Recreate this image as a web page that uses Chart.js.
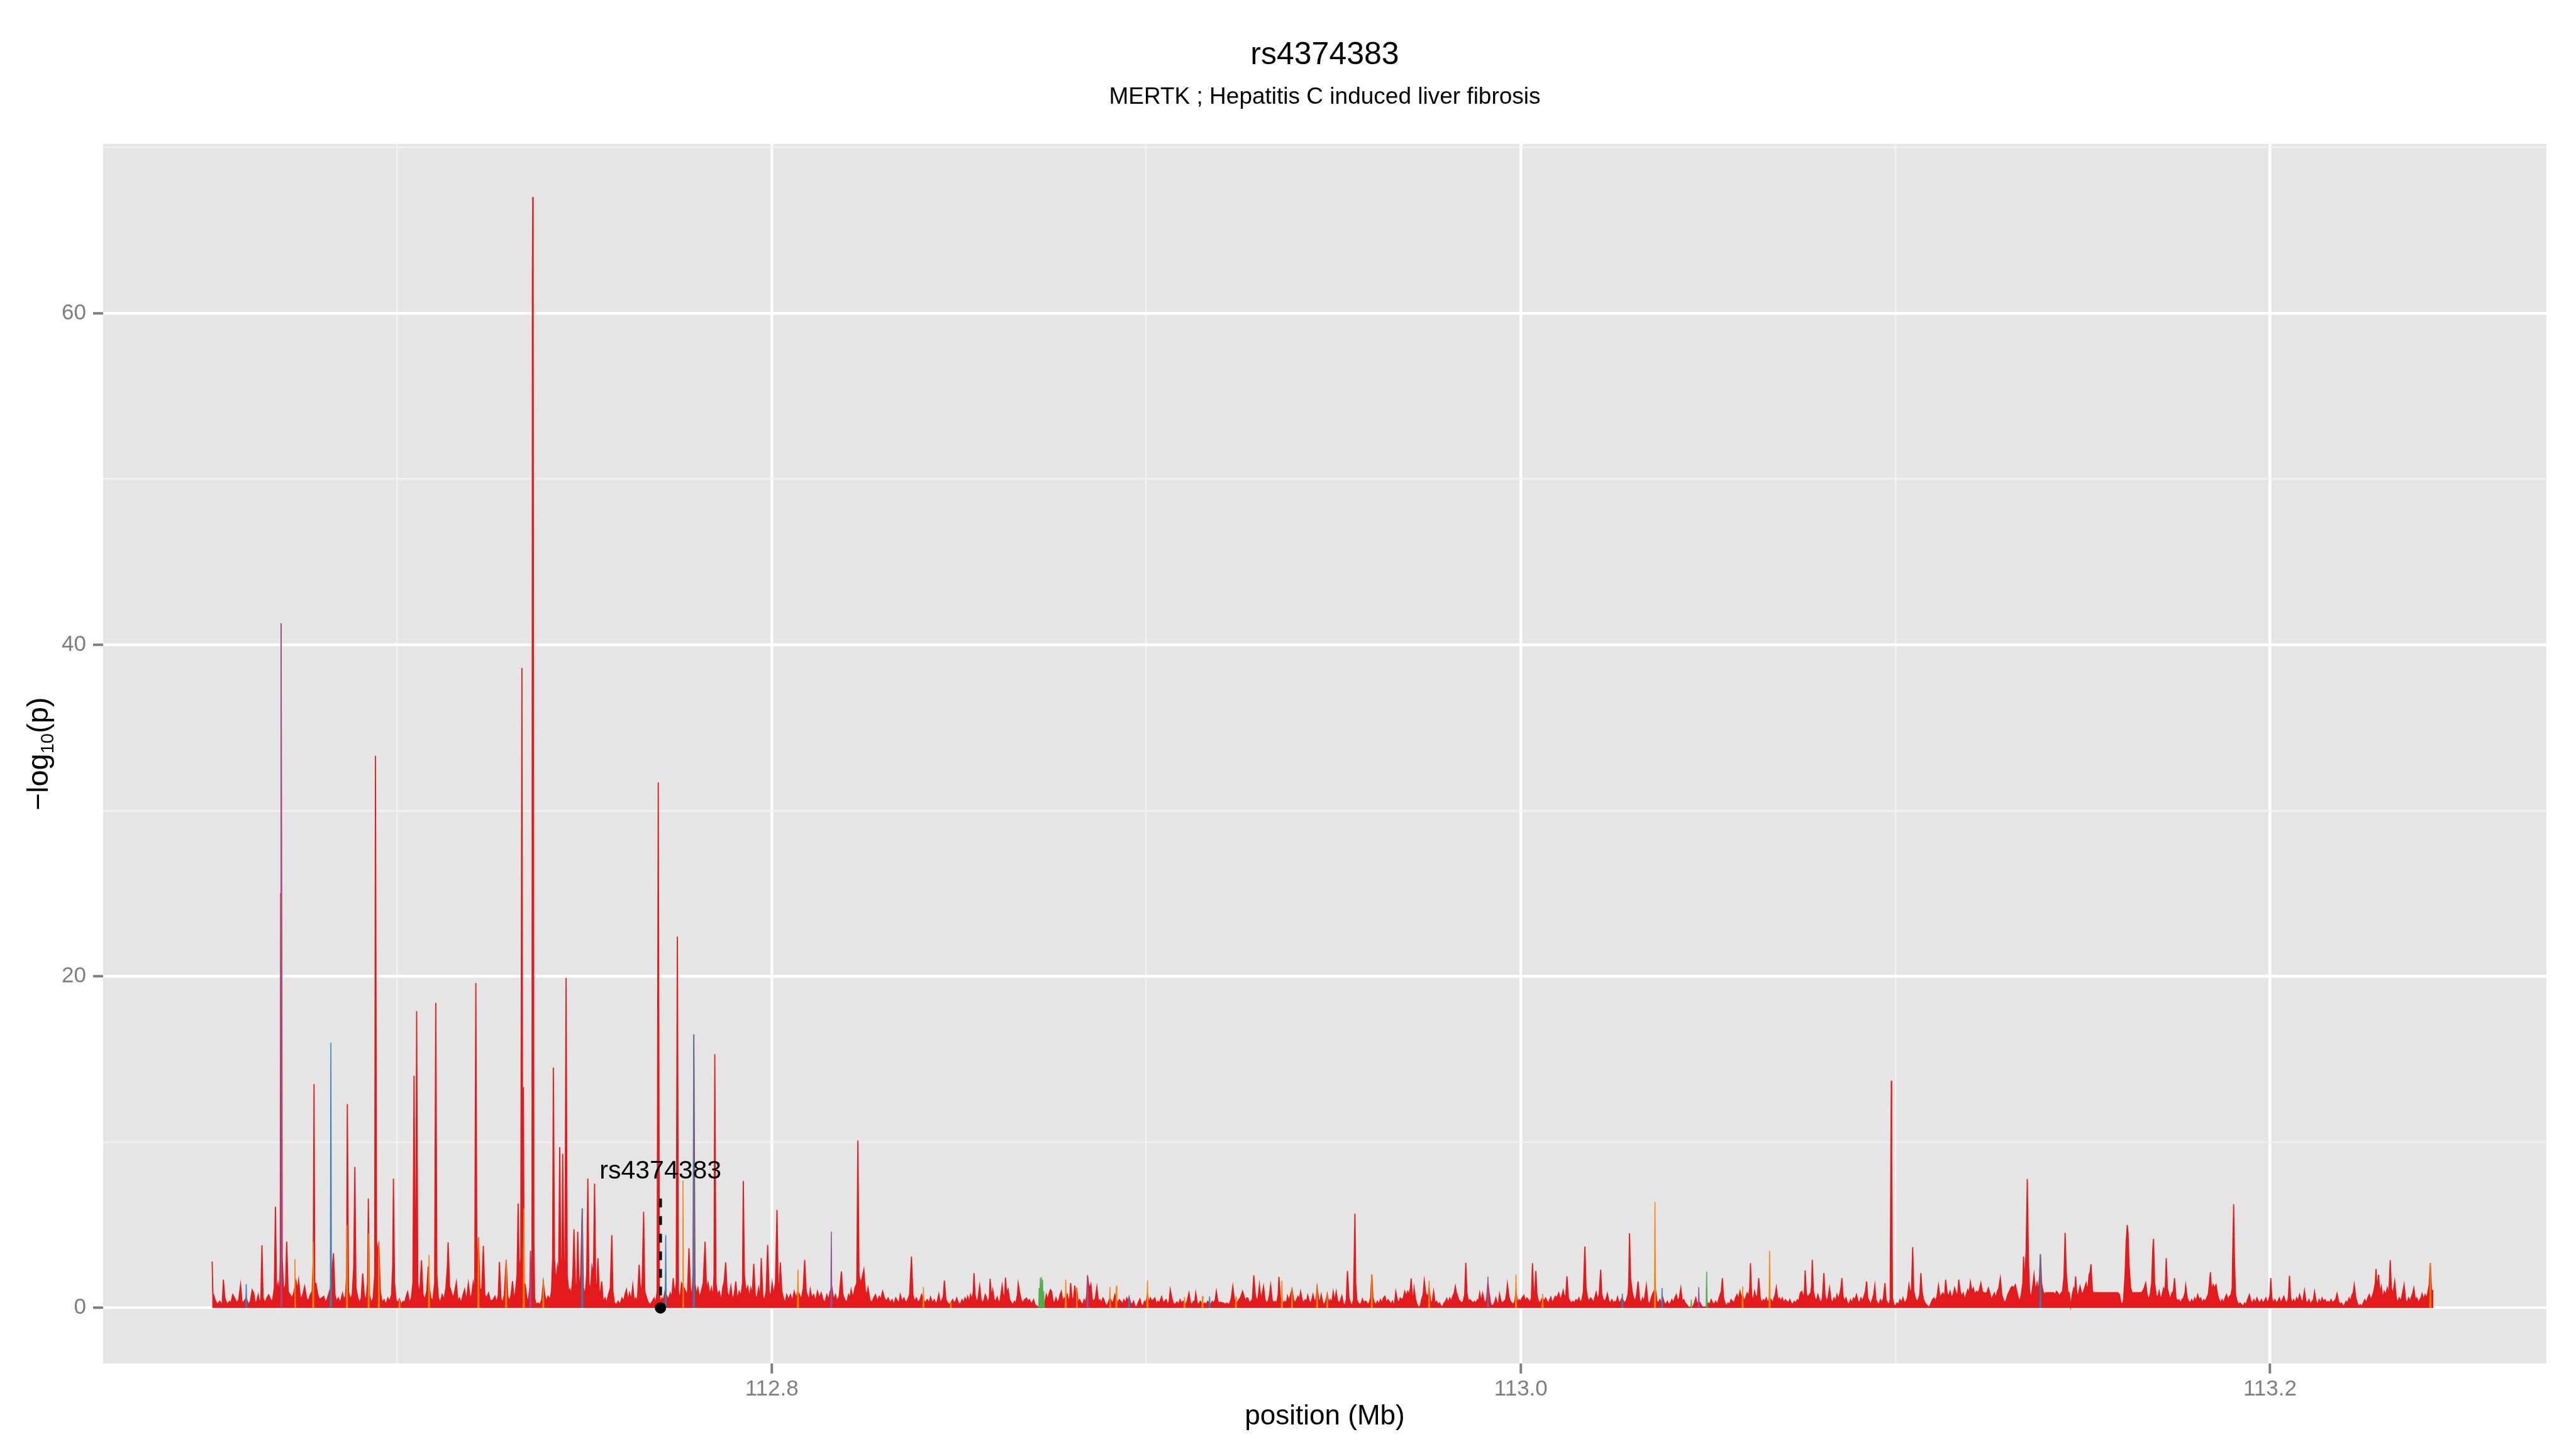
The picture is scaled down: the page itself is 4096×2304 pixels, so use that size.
<!DOCTYPE html>
<html>
<head>
<meta charset="utf-8">
<title>rs4374383</title>
<script src="https://cdn.jsdelivr.net/npm/chart.js@4.4.1/dist/chart.umd.min.js"></script>
<style>
    html, body { margin: 0; padding: 0; background: #ffffff; }
    canvas { display: block; }
</style>
</head>
<body>
<canvas id="locusChart" width="4096" height="2304"></canvas>
<script>
const titleText = "rs4374383";
const subtitleText = "MERTK ; Hepatitis C induced liver fibrosis";
const xTitle = "position (Mb)";

const xMin = 112.6215;
const xMax = 113.2738;
const yMin = -3.35;
const yMax = 70.2;

// lead snp marker
const leadSnp = "rs4374383";
const leadPos = 112.7703;
const leadLineTop = 6.6;
const leadLabelY = 7.8;

// [position (Mb), -log10(p)] for the red (low LD) snps
const redSnps = [
    [112.6506, 2.8], [112.6508, 0.9], [112.6514, 0.5], [112.6520, 0.2], [112.6526, 0.4], [112.6533, 0.2], [112.6536, 1.7], [112.6540, 0.6], [112.6546, 0.2], [112.6552, 0.4],
    [112.6556, 0.3], [112.6561, 0.8], [112.6566, 0.6], [112.6572, 0.3], [112.6577, 0.5], [112.6582, 1.4], [112.6586, 0.3], [112.6591, 0.4], [112.6597, 0.6], [112.6603, 0.2],
    [112.6608, 0.4], [112.6613, 1.08], [112.6617, 0.9], [112.6621, 0.3], [112.6625, 0.4], [112.6629, 0.79], [112.6633, 0.3], [112.6636, 0.5], [112.6639, 3.78], [112.6642, 0.6],
    [112.6647, 0.3], [112.6652, 0.6], [112.6657, 0.79], [112.6662, 0.5], [112.6667, 0.4], [112.6672, 1.2], [112.6675, 6.1], [112.6678, 1.0], [112.6682, 1.5], [112.6686, 0.8],
    [112.6688, 3.0], [112.6689, 25.0], [112.6690, 41.3], [112.6691, 30.0], [112.6693, 3.0], [112.6697, 1.0], [112.6702, 1.4], [112.6705, 4.0], [112.6709, 1.0], [112.6714, 0.8],
    [112.6719, 0.6], [112.6724, 0.9], [112.6730, 1.6], [112.6734, 1.1], [112.6737, 1.67], [112.6742, 0.5], [112.6748, 0.8], [112.6753, 1.3], [112.6758, 0.6], [112.6763, 0.4],
    [112.6768, 0.8], [112.6773, 1.0], [112.6776, 3.0], [112.6778, 13.5], [112.6780, 1.5], [112.6783, 1.48], [112.6788, 0.8], [112.6793, 0.5], [112.6798, 0.6], [112.6804, 0.7],
    [112.6809, 0.3], [112.6814, 0.6], [112.6818, 0.9], [112.6822, 1.2], [112.6830, 3.3],

    [112.6834, 0.8], [112.6838, 0.4], [112.6843, 0.6], [112.6848, 0.3], [112.6854, 0.88], [112.6858, 0.5], [112.6862, 0.7], [112.6865, 2.0], [112.6867, 12.3], [112.6870, 1.0],
    [112.6875, 0.5], [112.6880, 0.8], [112.6884, 2.5], [112.6887, 8.5], [112.6890, 1.2], [112.6895, 0.6], [112.6900, 0.3], [112.6904, 0.6], [112.6908, 2.08], [112.6912, 0.8],
    [112.6917, 0.4], [112.6921, 1.5], [112.6923, 6.6], [112.6926, 0.8], [112.6931, 0.3], [112.6936, 0.6], [112.6940, 2.0], [112.6942, 33.3], [112.6945, 4.0], [112.6948, 3.5],
    [112.6951, 3.83], [112.6955, 1.0], [112.6960, 0.3], [112.6965, 0.5], [112.6970, 0.2], [112.6975, 0.6], [112.6980, 0.4], [112.6985, 0.8], [112.6988, 2.5], [112.6990, 7.8],
    [112.6993, 1.5], [112.6997, 0.5],

    [112.7001, 0.3], [112.7006, 0.54], [112.7011, 0.2], [112.7016, 0.4], [112.7020, 0.3], [112.7024, 0.7], [112.7028, 0.97], [112.7033, 0.3], [112.7038, 0.6], [112.7042, 1.5],
    [112.7045, 14.0], [112.7048, 3.0], [112.7050, 4.0], [112.7052, 17.9], [112.7055, 1.5], [112.7060, 0.8], [112.7065, 2.88], [112.7069, 0.8], [112.7074, 0.5], [112.7079, 1.0],
    [112.7083, 2.5], [112.7086, 1.2], [112.7090, 0.6], [112.7095, 0.4], [112.7100, 1.5], [112.7103, 18.4], [112.7106, 2.0], [112.7110, 0.6], [112.7115, 0.3], [112.7120, 0.8],
    [112.7125, 0.5], [112.7130, 1.2], [112.7134, 2.5], [112.7136, 3.96], [112.7140, 1.3], [112.7144, 1.0], [112.7149, 0.6], [112.7153, 0.9], [112.7158, 1.54], [112.7162, 0.4],
    [112.7166, 0.6], [112.7171, 0.3], [112.7176, 0.8], [112.7180, 1.11], [112.7185, 0.4], [112.7190, 1.48], [112.7195, 0.5], [112.7199, 0.8], [112.7203, 1.54], [112.7207, 1.0],
    [112.7210, 19.6], [112.7213, 1.5], [112.7217, 4.26], [112.7221, 1.0], [112.7226, 1.2], [112.7230, 3.74], [112.7234, 0.8], [112.7239, 0.6], [112.7244, 0.9], [112.7249, 0.4],
    [112.7256, 0.49], [112.7261, 0.7], [112.7266, 0.3], [112.7270, 0.8], [112.7273, 2.77], [112.7277, 0.6], [112.7282, 0.3], [112.7286, 0.8], [112.7291, 2.9], [112.7295, 0.7],
    [112.7300, 0.4], [112.7304, 0.8], [112.7308, 1.62], [112.7312, 0.5], [112.7316, 1.0], [112.7320, 2.0], [112.7323, 6.3], [112.7326, 2.0], [112.7330, 3.0], [112.7333, 38.6],
    [112.7335, 4.0], [112.7337, 13.3], [112.7339, 1.5], [112.7342, 1.4], [112.7346, 0.6], [112.7350, 0.4], [112.7354, 1.2], [112.7356, 3.45], [112.7359, 1.0], [112.7360, 3.0],
    [112.7361, 62.0], [112.7362, 67.0], [112.7363, 63.0], [112.7365, 4.0], [112.7367, 0.6], [112.7371, 0.2], [112.7376, 0.3], [112.7381, 0.2], [112.7386, 0.5], [112.7390, 1.56],
    [112.7394, 0.8], [112.7398, 0.4], [112.7403, 0.7], [112.7408, 0.5], [112.7412, 1.0], [112.7415, 3.0], [112.7417, 14.5], [112.7420, 3.0], [112.7424, 1.5], [112.7428, 2.5],
    [112.7431, 2.0], [112.7434, 9.7], [112.7437, 2.0], [112.7440, 3.0], [112.7442, 9.3], [112.7445, 2.0], [112.7448, 3.0], [112.7451, 19.9], [112.7454, 2.0], [112.7458, 1.0],
    [112.7461, 1.13], [112.7465, 0.8], [112.7469, 2.0], [112.7472, 4.75], [112.7476, 1.5],

    [112.7479, 0.8], [112.7482, 4.6], [112.7486, 1.0], [112.7490, 2.0], [112.7494, 6.0], [112.7497, 1.2], [112.7502, 0.8], [112.7506, 2.0], [112.7509, 7.8], [112.7512, 1.5],
    [112.7516, 1.0], [112.7520, 2.5], [112.7524, 2.0], [112.7527, 7.5], [112.7530, 1.5], [112.7533, 1.2], [112.7536, 3.0], [112.7540, 0.8], [112.7543, 1.0], [112.7546, 1.6],
    [112.7550, 0.4], [112.7555, 0.6], [112.7559, 0.3], [112.7564, 0.8], [112.7569, 1.2], [112.7573, 4.4], [112.7576, 1.0], [112.7580, 0.3], [112.7585, 0.2], [112.7590, 0.4],
    [112.7595, 0.2], [112.7600, 0.6], [112.7605, 0.4], [112.7608, 0.8], [112.7612, 1.1], [112.7616, 0.4], [112.7620, 0.9], [112.7625, 0.5], [112.7629, 1.35], [112.7633, 0.4],
    [112.7637, 0.6], [112.7641, 0.3], [112.7646, 2.6], [112.7650, 0.8], [112.7654, 1.5], [112.7658, 5.8], [112.7661, 1.0], [112.7666, 0.6], [112.7671, 0.3], [112.7676, 0.2],
    [112.7681, 0.4], [112.7686, 0.6], [112.7690, 0.3], [112.7694, 1.0], [112.7697, 31.7], [112.7700, 1.0], [112.7703, 0.3], [112.7707, 0.6], [112.7711, 0.5], [112.7715, 1.0],
    [112.7720, 0.7], [112.7724, 0.5], [112.7729, 0.9], [112.7733, 0.6], [112.7737, 1.8], [112.7741, 0.8], [112.7745, 1.5], [112.7748, 22.4], [112.7751, 1.0], [112.7755, 0.5],
    [112.7759, 1.5], [112.7766, 1.2], [112.7770, 1.0], [112.7775, 0.8], [112.7779, 3.6], [112.7783, 1.2], [112.7787, 0.6], [112.7790, 2.0], [112.7792, 16.5], [112.7795, 1.5],
    [112.7799, 0.8], [112.7803, 1.2], [112.7807, 0.6], [112.7812, 1.0], [112.7817, 1.5], [112.7822, 4.0], [112.7826, 1.0], [112.7830, 1.5], [112.7835, 0.8], [112.7839, 1.2],
    [112.7843, 0.6], [112.7846, 2.0], [112.7848, 15.3], [112.7851, 1.5], [112.7855, 0.8], [112.7860, 1.0], [112.7865, 0.4], [112.7869, 1.2], [112.7873, 1.6], [112.7877, 2.75],
    [112.7881, 1.0], [112.7886, 0.6], [112.7891, 1.3], [112.7895, 0.5], [112.7900, 0.8], [112.7904, 1.6], [112.7908, 0.5], [112.7913, 1.0], [112.7918, 0.7], [112.7922, 1.5],
    [112.7924, 7.66], [112.7927, 2.0], [112.7931, 1.0], [112.7936, 1.3], [112.7940, 0.6], [112.7944, 1.2], [112.7948, 0.8], [112.7952, 2.66], [112.7956, 0.8], [112.7960, 0.5],
    [112.7965, 1.2], [112.7969, 0.6], [112.7972, 3.0], [112.7976, 0.8], [112.7980, 0.4], [112.7985, 1.0], [112.7989, 3.8], [112.7993, 1.0], [112.7997, 0.6], [112.8001, 1.5],
    [112.8005, 0.8], [112.8010, 1.5], [112.8014, 5.9], [112.8017, 1.5], [112.8020, 1.2], [112.8023, 2.75], [112.8027, 1.0], [112.8031, 0.6], [112.8036, 0.3], [112.8040, 0.8],
    [112.8045, 0.5], [112.8050, 0.8], [112.8055, 0.4], [112.8060, 1.0], [112.8065, 0.6], [112.8070, 1.0], [112.8074, 0.8], [112.8079, 0.5], [112.8084, 1.2], [112.8088, 2.9],
    [112.8092, 1.0], [112.8096, 0.7], [112.8100, 0.5], [112.8103, 1.1], [112.8107, 0.6], [112.8112, 0.8], [112.8117, 0.4], [112.8122, 1.0], [112.8127, 0.6], [112.8132, 0.9],
    [112.8137, 0.5], [112.8142, 0.3], [112.8147, 0.8], [112.8152, 0.5], [112.8156, 1.0], [112.8161, 1.2], [112.8165, 0.5], [112.8170, 0.8], [112.8175, 0.4], [112.8180, 0.7],
    [112.8186, 2.2], [112.8190, 0.8], [112.8195, 0.5], [112.8200, 0.3], [112.8205, 0.8], [112.8209, 0.6], [112.8212, 1.1], [112.8217, 0.6], [112.8222, 1.2], [112.8227, 1.5],
    [112.8230, 10.1], [112.8233, 2.0], [112.8237, 1.5], [112.8241, 1.8], [112.8246, 2.3], [112.8250, 1.0], [112.8254, 0.8], [112.8257, 1.2], [112.8262, 0.5], [112.8267, 0.3],
    [112.8272, 0.6], [112.8277, 0.8], [112.8282, 0.4], [112.8287, 0.7], [112.8291, 0.5], [112.8296, 1.0], [112.8301, 0.6], [112.8306, 0.4], [112.8311, 0.6], [112.8316, 0.3],
    [112.8321, 0.5], [112.8326, 0.2], [112.8331, 0.6], [112.8336, 0.4], [112.8340, 0.3], [112.8343, 0.8], [112.8348, 0.4], [112.8353, 0.6], [112.8358, 0.3], [112.8363, 0.5],
    [112.8368, 0.8], [112.8373, 3.1], [112.8377, 0.8],

    [112.8381, 0.4], [112.8386, 0.6], [112.8391, 0.3], [112.8396, 0.5], [112.8400, 0.8], [112.8405, 0.5], [112.8410, 0.3], [112.8415, 0.5], [112.8420, 0.3], [112.8424, 0.65],
    [112.8429, 0.3], [112.8434, 0.5], [112.8439, 0.2], [112.8443, 0.5], [112.8446, 0.83], [112.8450, 0.3], [112.8455, 0.5], [112.8458, 0.7], [112.8461, 1.65], [112.8465, 0.5],
    [112.8470, 0.3], [112.8474, 0.2], [112.8478, 0.3], [112.8483, 0.5], [112.8487, 0.3], [112.8491, 0.4], [112.8494, 0.6], [112.8498, 0.3], [112.8503, 0.2], [112.8508, 0.5],
    [112.8512, 0.3], [112.8516, 0.6], [112.8520, 0.4], [112.8523, 0.7], [112.8527, 0.4], [112.8531, 0.8], [112.8535, 0.5], [112.8538, 1.0], [112.8540, 2.1], [112.8543, 0.8],
    [112.8547, 0.3], [112.8551, 0.6], [112.8555, 1.33], [112.8559, 0.5], [112.8563, 0.3], [112.8567, 0.5], [112.8570, 0.8], [112.8573, 0.65], [112.8577, 0.3], [112.8581, 0.6],
    [112.8583, 1.76], [112.8587, 0.6], [112.8590, 1.08], [112.8594, 0.5], [112.8598, 0.4], [112.8602, 0.65], [112.8606, 0.3], [112.8610, 0.5], [112.8615, 1.35], [112.8619, 0.6],
    [112.8622, 0.8], [112.8624, 1.83], [112.8627, 0.9], [112.8631, 1.13], [112.8635, 0.5], [112.8640, 0.3], [112.8644, 0.2], [112.8648, 0.4], [112.8652, 0.3], [112.8656, 0.8],
    [112.8658, 1.46], [112.8662, 0.9], [112.8666, 0.5], [112.8670, 0.3], [112.8675, 0.5], [112.8680, 0.6], [112.8684, 0.4], [112.8688, 0.5], [112.8692, 0.3], [112.8695, 0.3],
    [112.8699, 0.5], [112.8703, 0.2], [112.8708, 0.1], [112.8713, 0.05], [112.8719, 0.05], [112.8725, 0.05], [112.8729, 0.3], [112.8733, 0.8], [112.8737, 0.5], [112.8741, 0.9],
    [112.8744, 1.1], [112.8747, 1.0], [112.8751, 0.4], [112.8755, 0.3], [112.8759, 0.6], [112.8763, 0.3], [112.8767, 0.5], [112.8770, 0.8], [112.8773, 1.0], [112.8777, 0.4],
    [112.8781, 0.6], [112.8785, 0.5], [112.8789, 0.8], [112.8793, 0.3], [112.8796, 0.7], [112.8798, 1.5], [112.8802, 0.5], [112.8806, 0.6], [112.8809, 1.35], [112.8812, 0.4],
    [112.8814, 1.24], [112.8818, 0.3], [112.8822, 0.5], [112.8826, 0.3], [112.8830, 0.2], [112.8834, 0.5], [112.8838, 0.3], [112.8841, 0.8], [112.8843, 1.97], [112.8846, 1.4],
    [112.8849, 1.2], [112.8852, 1.43], [112.8856, 0.5], [112.8860, 0.4], [112.8864, 0.6], [112.8868, 1.26], [112.8872, 0.4], [112.8876, 0.5], [112.8880, 0.3], [112.8884, 0.6],
    [112.8886, 0.54], [112.8890, 0.3], [112.8894, 0.1], [112.8898, 0.3], [112.8903, 0.6], [112.8907, 0.4], [112.8911, 0.3], [112.8916, 0.8], [112.8920, 0.5], [112.8924, 0.3],
    [112.8928, 0.5], [112.8932, 0.4], [112.8936, 0.2], [112.8940, 0.5], [112.8944, 0.3], [112.8948, 0.6], [112.8952, 0.4], [112.8954, 0.65], [112.8958, 0.3], [112.8962, 0.2],
    [112.8966, 0.4], [112.8970, 0.1], [112.8974, 0.05], [112.8978, 0.3], [112.8983, 0.54], [112.8987, 0.2], [112.8991, 0.1], [112.8995, 0.4], [112.8999, 0.3], [112.9003, 0.8],
    [112.9007, 0.3], [112.9011, 0.6], [112.9015, 0.4], [112.9019, 0.5], [112.9023, 0.6], [112.9027, 0.2], [112.9031, 0.4], [112.9035, 0.3], [112.9038, 0.5], [112.9041, 0.68],
    [112.9045, 0.3], [112.9049, 0.4], [112.9053, 0.5], [112.9057, 0.2], [112.9061, 0.4], [112.9064, 1.1], [112.9068, 0.6], [112.9072, 0.3], [112.9076, 0.2], [112.9080, 0.3],
    [112.9082, 0.36], [112.9086, 0.2], [112.9090, 0.5], [112.9094, 0.3], [112.9098, 0.4], [112.9102, 0.3], [112.9106, 0.2], [112.9110, 0.5], [112.9114, 0.9], [112.9118, 0.3],
    [112.9122, 0.2], [112.9126, 0.4], [112.9129, 0.3], [112.9132, 0.9], [112.9136, 0.3], [112.9140, 0.2], [112.9144, 0.4], [112.9148, 0.3], [112.9152, 0.2], [112.9156, 0.3],
    [112.9160, 0.2], [112.9164, 0.4], [112.9168, 0.3], [112.9172, 0.2], [112.9176, 0.4], [112.9180, 0.3], [112.9184, 0.5], [112.9187, 1.0], [112.9191, 0.4], [112.9195, 0.3],
    [112.9199, 0.35], [112.9203, 0.3], [112.9207, 0.3], [112.9211, 0.2], [112.9215, 0.3], [112.9219, 0.2], [112.9223, 0.3], [112.9227, 0.6], [112.9231, 1.3], [112.9235, 0.5],
    [112.9239, 0.4], [112.9243, 0.3], [112.9247, 0.5], [112.9251, 0.6], [112.9254, 0.8], [112.9257, 1.0], [112.9261, 0.7], [112.9265, 0.4], [112.9268, 0.6], [112.9271, 0.6],
    [112.9275, 0.3], [112.9279, 0.4], [112.9283, 0.5], [112.9287, 1.97], [112.9291, 0.8], [112.9295, 0.4], [112.9299, 0.7], [112.9302, 1.38], [112.9306, 0.5], [112.9309, 0.8],
    [112.9313, 1.3], [112.9317, 0.5], [112.9321, 0.3], [112.9325, 0.4], [112.9329, 0.8], [112.9332, 1.37], [112.9336, 0.5], [112.9340, 0.3], [112.9344, 0.4], [112.9348, 0.3],
    [112.9352, 0.8], [112.9354, 1.87], [112.9358, 0.6], [112.9362, 0.5], [112.9366, 0.3], [112.9370, 0.4], [112.9374, 0.3], [112.9377, 0.72],

    [112.9381, 0.4], [112.9385, 0.8], [112.9389, 1.13], [112.9393, 0.5], [112.9397, 0.3], [112.9401, 0.5], [112.9405, 0.7], [112.9409, 0.5], [112.9412, 0.97], [112.9416, 0.5],
    [112.9420, 0.3], [112.9424, 0.5], [112.9428, 0.4], [112.9431, 0.76], [112.9435, 0.4], [112.9439, 0.3], [112.9442, 0.5], [112.9445, 0.8], [112.9449, 0.4], [112.9453, 0.5],
    [112.9456, 1.24], [112.9460, 0.5], [112.9464, 0.4], [112.9467, 0.79], [112.9471, 0.3], [112.9475, 0.2], [112.9479, 0.4], [112.9483, 0.83], [112.9487, 0.3], [112.9491, 0.5],
    [112.9495, 0.3], [112.9499, 0.97], [112.9503, 0.4], [112.9507, 0.97], [112.9511, 0.4], [112.9515, 0.3], [112.9519, 0.5], [112.9522, 0.72], [112.9526, 0.3], [112.9530, 0.1],
    [112.9534, 0.5], [112.9537, 2.23], [112.9541, 0.6], [112.9545, 0.3], [112.9549, 0.1], [112.9553, 0.5], [112.9555, 3.0], [112.9557, 5.69], [112.9559, 1.5], [112.9562, 0.5],
    [112.9566, 0.3], [112.9570, 0.2], [112.9574, 0.3], [112.9577, 0.54], [112.9581, 0.3], [112.9584, 0.4], [112.9587, 0.4], [112.9591, 0.2], [112.9595, 0.3], [112.9599, 0.6],
    [112.9602, 2.02], [112.9605, 0.6], [112.9609, 0.3], [112.9613, 0.2], [112.9617, 0.4], [112.9621, 0.2], [112.9625, 0.5], [112.9629, 0.3], [112.9633, 0.6], [112.9637, 0.7],
    [112.9641, 0.3], [112.9645, 0.5], [112.9649, 0.4], [112.9653, 0.2], [112.9657, 0.4], [112.9661, 0.1], [112.9664, 0.5], [112.9666, 0.97], [112.9670, 0.5], [112.9674, 0.3],
    [112.9678, 0.6], [112.9682, 0.5], [112.9686, 0.6], [112.9690, 1.0], [112.9694, 0.7], [112.9698, 1.0], [112.9702, 0.8], [112.9705, 1.2], [112.9707, 1.78], [112.9710, 0.8],
    [112.9713, 0.6], [112.9715, 1.19], [112.9719, 0.5], [112.9723, 0.2], [112.9727, 0.05], [112.9731, 0.1], [112.9735, 0.5], [112.9739, 0.8], [112.9742, 1.64], [112.9746, 0.9],
    [112.9750, 0.7], [112.9753, 0.8], [112.9755, 1.2], [112.9759, 0.4], [112.9763, 0.3], [112.9767, 1.0], [112.9771, 0.3], [112.9775, 0.4], [112.9779, 0.2], [112.9783, 0.3],
    [112.9787, 0.1], [112.9791, 0.1], [112.9795, 0.3], [112.9799, 0.4], [112.9802, 0.57], [112.9806, 0.3], [112.9810, 0.6], [112.9814, 0.4], [112.9818, 0.7], [112.9822, 0.9],
    [112.9825, 1.3], [112.9828, 0.9], [112.9830, 0.8], [112.9834, 0.5], [112.9838, 0.4], [112.9842, 0.3], [112.9846, 0.4], [112.9850, 0.8], [112.9853, 2.73], [112.9856, 0.9],
    [112.9860, 0.4], [112.9864, 0.5], [112.9868, 0.4], [112.9872, 0.3], [112.9876, 0.4], [112.9880, 0.3], [112.9884, 0.5], [112.9887, 0.4], [112.9890, 0.9], [112.9894, 0.4],
    [112.9898, 0.86], [112.9902, 0.4], [112.9906, 0.3], [112.9909, 0.6], [112.9912, 1.6], [112.9915, 0.9], [112.9919, 0.3], [112.9923, 0.1], [112.9927, 0.2], [112.9931, 0.4],
    [112.9933, 0.6], [112.9937, 0.3], [112.9940, 0.2], [112.9943, 0.83], [112.9947, 0.4], [112.9951, 0.3], [112.9955, 0.4], [112.9959, 0.5], [112.9962, 0.9], [112.9964, 1.43],
    [112.9968, 0.7], [112.9972, 0.4], [112.9976, 0.3], [112.9980, 0.2], [112.9984, 0.4], [112.9987, 1.0], [112.9991, 0.3], [112.9995, 0.5], [112.9999, 0.4], [113.0003, 0.6],
    [113.0008, 0.76], [113.0012, 0.4], [113.0016, 0.6], [113.0020, 0.5], [113.0024, 0.3], [113.0028, 0.6], [113.0031, 2.7], [113.0034, 0.9], [113.0037, 1.0], [113.0040, 2.23],
    [113.0043, 0.8], [113.0047, 0.4], [113.0051, 0.3], [113.0055, 0.5], [113.0058, 0.6], [113.0062, 0.4], [113.0066, 0.6], [113.0070, 0.4], [113.0074, 0.3], [113.0077, 0.5],
    [113.0080, 0.65], [113.0084, 0.3], [113.0088, 0.5], [113.0092, 0.7], [113.0096, 0.6], [113.0101, 0.9], [113.0105, 0.5], [113.0109, 0.7], [113.0113, 1.05], [113.0117, 0.6],
    [113.0120, 0.8], [113.0123, 1.91], [113.0127, 0.6], [113.0131, 0.4], [113.0135, 0.3], [113.0139, 0.4], [113.0143, 0.3], [113.0147, 0.5], [113.0151, 0.4], [113.0155, 0.6],
    [113.0159, 0.3], [113.0163, 0.5], [113.0167, 1.0], [113.0169, 2.5], [113.0171, 3.7], [113.0174, 1.2], [113.0178, 0.6], [113.0182, 0.4], [113.0186, 0.6], [113.0190, 0.5],
    [113.0194, 0.3], [113.0197, 0.6], [113.0201, 0.94], [113.0205, 0.5], [113.0209, 0.8], [113.0213, 2.3], [113.0216, 0.8], [113.0220, 0.5], [113.0224, 0.4], [113.0228, 0.6],
    [113.0231, 0.86], [113.0235, 0.4], [113.0239, 0.3], [113.0243, 0.5], [113.0247, 0.3], [113.0251, 0.4], [113.0254, 0.3], [113.0258, 0.65], [113.0262, 0.3], [113.0266, 0.4],
    [113.0270, 0.6], [113.0274, 0.4], [113.0278, 0.3], [113.0282, 0.5], [113.0286, 0.8], [113.0288, 1.5], [113.0290, 4.5], [113.0293, 1.8], [113.0297, 1.0], [113.0301, 0.6],
    [113.0305, 0.4], [113.0309, 0.8], [113.0313, 1.6], [113.0317, 0.5], [113.0321, 0.3], [113.0325, 0.6], [113.0329, 0.4], [113.0333, 1.0], [113.0335, 1.35], [113.0339, 0.4],
    [113.0343, 0.2], [113.0347, 0.5], [113.0351, 0.8], [113.0355, 1.0],

    [113.0359, 1.2], [113.0363, 0.4], [113.0367, 0.3], [113.0371, 0.5], [113.0375, 0.3], [113.0379, 0.6], [113.0383, 0.3], [113.0387, 0.2], [113.0391, 0.4], [113.0395, 0.2],
    [113.0399, 0.3], [113.0403, 0.5], [113.0407, 0.3], [113.0411, 0.6], [113.0415, 0.8], [113.0419, 0.4], [113.0423, 0.6], [113.0427, 1.2], [113.0431, 0.4], [113.0435, 0.5],
    [113.0439, 0.3], [113.0443, 0.2], [113.0447, 0.05], [113.0451, 0.05], [113.0455, 0.05], [113.0459, 0.05], [113.0463, 0.3], [113.0467, 0.6], [113.0471, 0.2], [113.0475, 0.4],
    [113.0479, 0.3], [113.0483, 0.1], [113.0487, 0.05], [113.0491, 0.05], [113.0496, 0.1], [113.0500, 0.3], [113.0504, 0.2], [113.0508, 0.5], [113.0512, 0.3], [113.0516, 0.2],
    [113.0520, 0.4], [113.0524, 0.2], [113.0528, 0.5], [113.0532, 0.8], [113.0535, 1.0], [113.0538, 1.8], [113.0541, 0.6], [113.0545, 0.3], [113.0549, 0.1], [113.0553, 0.3],
    [113.0557, 0.2], [113.0561, 0.5], [113.0565, 0.4], [113.0569, 0.3], [113.0573, 0.6], [113.0577, 0.8], [113.0581, 0.5], [113.0585, 1.0], [113.0589, 0.6], [113.0592, 0.8],
    [113.0596, 0.4], [113.0600, 0.6], [113.0604, 0.9], [113.0608, 0.7], [113.0611, 1.2], [113.0613, 2.7], [113.0616, 0.8], [113.0620, 0.4], [113.0624, 1.0], [113.0628, 0.6],
    [113.0632, 0.8], [113.0635, 1.8], [113.0639, 0.6], [113.0643, 0.3], [113.0647, 0.5], [113.0651, 0.4], [113.0655, 0.6], [113.0659, 0.3], [113.0662, 0.5], [113.0664, 0.6],
    [113.0668, 0.5], [113.0672, 0.3], [113.0676, 0.6], [113.0679, 0.8], [113.0682, 1.24], [113.0686, 0.5], [113.0690, 0.6], [113.0694, 0.4], [113.0698, 0.6], [113.0702, 0.3],
    [113.0706, 0.5], [113.0710, 0.4], [113.0714, 0.3], [113.0718, 0.5], [113.0722, 0.3], [113.0726, 0.2], [113.0730, 0.4], [113.0734, 0.3], [113.0738, 0.5], [113.0742, 0.4],
    [113.0746, 0.9], [113.0750, 1.0], [113.0754, 0.6], [113.0757, 1.0], [113.0759, 2.26], [113.0762, 0.9], [113.0766, 0.6], [113.0770, 0.8], [113.0774, 0.9], [113.0776, 1.3],
    [113.0778, 2.9], [113.0781, 1.0], [113.0785, 0.6], [113.0789, 0.4], [113.0793, 0.8], [113.0797, 0.5], [113.0801, 0.3], [113.0805, 0.6], [113.0809, 2.1], [113.0812, 0.8],
    [113.0816, 0.4], [113.0820, 0.6], [113.0824, 1.2], [113.0828, 0.5], [113.0832, 0.3], [113.0836, 0.6], [113.0840, 0.4], [113.0844, 0.8], [113.0848, 0.5], [113.0852, 0.9],
    [113.0855, 1.3], [113.0857, 1.8], [113.0860, 0.7], [113.0864, 0.4], [113.0868, 0.6], [113.0872, 0.3], [113.0876, 0.2], [113.0880, 0.5], [113.0884, 0.3], [113.0888, 0.6],
    [113.0892, 0.5], [113.0896, 0.8], [113.0900, 0.4], [113.0904, 0.3], [113.0908, 0.6], [113.0912, 0.4], [113.0916, 0.7], [113.0920, 1.0], [113.0923, 1.6], [113.0926, 0.6],
    [113.0930, 0.4], [113.0934, 0.2], [113.0938, 0.5], [113.0942, 0.8], [113.0945, 1.35], [113.0948, 0.5], [113.0952, 0.3], [113.0956, 0.2], [113.0960, 0.5], [113.0964, 0.3],
    [113.0968, 0.6], [113.0972, 1.5], [113.0975, 0.5], [113.0979, 0.3], [113.0983, 0.2], [113.0986, 0.5], [113.0988, 10.0], [113.0989, 13.7], [113.0990, 9.0], [113.0992, 0.6],
    [113.0996, 0.2], [113.1000, 0.1], [113.1004, 0.3], [113.1008, 0.2], [113.1012, 0.5], [113.1016, 0.3], [113.1020, 0.6], [113.1024, 0.3], [113.1028, 0.4], [113.1032, 0.6],
    [113.1036, 1.4], [113.1040, 0.8], [113.1043, 1.2], [113.1046, 3.67], [113.1049, 1.0], [113.1053, 0.6], [113.1057, 0.4], [113.1061, 0.5], [113.1065, 0.8], [113.1068, 2.1],
    [113.1071, 1.0], [113.1075, 0.5], [113.1079, 0.3], [113.1083, 0.2], [113.1087, 0.1], [113.1091, 0.05], [113.1095, 0.3], [113.1099, 0.5], [113.1103, 0.6], [113.1107, 0.4],
    [113.1111, 0.7], [113.1115, 1.35], [113.1119, 0.6], [113.1123, 0.8], [113.1127, 0.9], [113.1131, 0.6], [113.1134, 1.7], [113.1138, 0.9], [113.1142, 0.7], [113.1146, 1.0],
    [113.1150, 0.6], [113.1154, 0.8], [113.1158, 1.2], [113.1162, 0.9], [113.1166, 0.7], [113.1169, 1.7], [113.1173, 1.0], [113.1177, 0.7], [113.1181, 0.9], [113.1185, 0.5],
    [113.1189, 0.8], [113.1193, 1.1], [113.1197, 0.9], [113.1200, 1.55], [113.1204, 1.0], [113.1208, 1.2], [113.1212, 0.8], [113.1216, 1.0], [113.1220, 0.9], [113.1224, 1.1],
    [113.1228, 1.5], [113.1232, 1.0], [113.1236, 0.9], [113.1240, 0.9], [113.1244, 0.9], [113.1248, 1.2], [113.1252, 0.9], [113.1256, 0.5], [113.1260, 0.7], [113.1264, 0.9],
    [113.1268, 0.6], [113.1272, 1.0], [113.1276, 1.2], [113.1280, 1.8], [113.1284, 0.8], [113.1288, 0.5], [113.1292, 0.3], [113.1296, 0.5], [113.1300, 0.8], [113.1304, 1.0],
    [113.1308, 1.2], [113.1312, 1.3], [113.1316, 1.2], [113.1320, 1.4], [113.1324, 1.0], [113.1328, 0.6], [113.1332, 0.4], [113.1336, 0.8], [113.1340, 1.5], [113.1342, 3.1],
    [113.1345, 1.5], [113.1349, 3.5], [113.1352, 7.77], [113.1355, 3.0], [113.1358, 1.0], [113.1362, 0.6], [113.1366, 1.2], [113.1370, 2.0], [113.1374, 1.0], [113.1378, 1.5],
    [113.1382, 1.0], [113.1385, 2.0], [113.1387, 3.24], [113.1390, 1.5], [113.1394, 1.0], [113.1398, 0.8], [113.1402, 0.92], [113.1406, 0.92], [113.1410, 0.92], [113.1414, 0.92],
    [113.1418, 0.92], [113.1422, 0.92], [113.1426, 0.8], [113.1430, 1.0], [113.1434, 0.9], [113.1438, 0.7], [113.1442, 0.9], [113.1446, 1.0], [113.1450, 1.9], [113.1453, 4.53],
    [113.1456, 2.2], [113.1460, 1.0], [113.1464, 0.9], [113.1468, 0.1], [113.1472, 0.8], [113.1476, 1.2], [113.1479, 1.0], [113.1481, 1.9], [113.1485, 0.6], [113.1489, 0.9],
    [113.1493, 1.3], [113.1497, 0.9], [113.1501, 0.9], [113.1505, 1.2], [113.1509, 1.5], [113.1513, 1.0], [113.1517, 2.0], [113.1520, 2.2], [113.1522, 2.64], [113.1526, 1.0],
    [113.1530, 0.92], [113.1535, 0.92], [113.1540, 0.92], [113.1546, 0.92], [113.1552, 0.92], [113.1558, 0.92], [113.1564, 0.92], [113.1570, 0.92], [113.1576, 0.92], [113.1582, 0.92],
    [113.1588, 0.92], [113.1594, 0.92], [113.1598, 0.8], [113.1602, 0.3], [113.1606, 0.2], [113.1609, 0.5], [113.1613, 2.0], [113.1616, 4.0], [113.1619, 5.0], [113.1621, 4.5],
    [113.1624, 2.5], [113.1628, 1.2], [113.1632, 0.9], [113.1636, 0.92], [113.1640, 0.92], [113.1644, 0.92], [113.1648, 0.92], [113.1652, 0.92], [113.1656, 0.92], [113.1660, 1.0],
    [113.1664, 1.2], [113.1668, 1.5], [113.1672, 0.8], [113.1676, 0.5], [113.1680, 0.8], [113.1684, 1.5], [113.1687, 3.5], [113.1689, 4.17], [113.1692, 1.5], [113.1696, 0.8],
    [113.1700, 0.6], [113.1704, 1.0], [113.1708, 0.5], [113.1712, 0.8], [113.1716, 1.2], [113.1720, 1.0], [113.1723, 3.0], [113.1726, 1.2], [113.1730, 0.8], [113.1734, 0.5],
    [113.1738, 0.9], [113.1742, 1.0], [113.1745, 1.8], [113.1749, 0.6], [113.1753, 0.4], [113.1757, 0.5], [113.1761, 0.3], [113.1765, 0.5], [113.1769, 0.6], [113.1773, 0.9],
    [113.1775, 1.35], [113.1779, 0.6], [113.1783, 0.4], [113.1787, 0.3], [113.1791, 0.5], [113.1795, 0.3], [113.1799, 0.6], [113.1803, 0.4], [113.1807, 0.8], [113.1811, 0.5],
    [113.1815, 0.6], [113.1819, 0.3], [113.1823, 0.5], [113.1827, 0.4], [113.1831, 0.6], [113.1835, 0.8], [113.1838, 1.4], [113.1841, 2.16], [113.1844, 1.0], [113.1848, 1.4],
    [113.1852, 1.2], [113.1856, 1.4], [113.1860, 0.8], [113.1864, 0.5], [113.1868, 0.3], [113.1872, 0.5], [113.1876, 0.3], [113.1880, 0.6], [113.1884, 0.8], [113.1888, 0.5],
    [113.1892, 0.7], [113.1896, 0.8], [113.1899, 1.2], [113.1901, 4.0], [113.1903, 6.26], [113.1905, 3.0], [113.1908, 0.8], [113.1912, 0.4], [113.1916, 0.2], [113.1920, 0.3],
    [113.1924, 0.2], [113.1928, 0.1], [113.1932, 0.3], [113.1936, 0.2], [113.1940, 0.5], [113.1945, 0.8], [113.1949, 0.4], [113.1953, 0.3], [113.1957, 0.5], [113.1961, 0.3],
    [113.1965, 0.6], [113.1969, 0.4], [113.1973, 0.3], [113.1977, 0.5], [113.1981, 0.3], [113.1985, 0.4], [113.1989, 0.6], [113.1993, 0.3], [113.1997, 0.5], [113.2000, 0.8],
    [113.2002, 1.8], [113.2005, 0.6], [113.2009, 0.3], [113.2013, 0.5], [113.2017, 0.3], [113.2021, 0.4], [113.2025, 0.6], [113.2029, 0.3], [113.2033, 0.5], [113.2037, 0.7],
    [113.2041, 0.4], [113.2045, 0.3], [113.2049, 0.6], [113.2052, 1.94], [113.2055, 0.6], [113.2059, 0.3], [113.2063, 0.5], [113.2067, 0.3], [113.2071, 0.6], [113.2075, 0.4],
    [113.2079, 0.8], [113.2083, 0.5], [113.2087, 0.3], [113.2092, 1.05], [113.2096, 0.4], [113.2100, 0.3], [113.2104, 0.5], [113.2108, 0.2], [113.2112, 0.4], [113.2116, 0.5],
    [113.2119, 0.97], [113.2123, 0.4], [113.2127, 0.2], [113.2131, 0.5], [113.2135, 0.3], [113.2139, 0.6], [113.2143, 0.4], [113.2147, 0.5], [113.2151, 0.3], [113.2155, 0.4],
    [113.2159, 0.3], [113.2163, 0.5], [113.2167, 0.3], [113.2171, 0.4], [113.2175, 0.5], [113.2179, 0.86], [113.2183, 0.4], [113.2187, 0.2], [113.2191, 0.3], [113.2195, 0.1],
    [113.2199, 0.2], [113.2203, 0.4], [113.2207, 0.3], [113.2211, 0.6], [113.2215, 0.4], [113.2219, 0.8], [113.2222, 0.9], [113.2225, 1.4], [113.2229, 0.6], [113.2233, 0.3],
    [113.2237, 0.1], [113.2241, 0.2], [113.2245, 0.1], [113.2249, 0.3], [113.2253, 0.5], [113.2257, 0.3], [113.2261, 0.6], [113.2265, 0.8], [113.2269, 0.5], [113.2273, 0.7],
    [113.2277, 1.0], [113.2281, 1.5], [113.2283, 2.35], [113.2286, 1.2], [113.2290, 2.0], [113.2293, 0.9], [113.2297, 1.3], [113.2301, 0.6], [113.2305, 1.0], [113.2309, 0.8],
    [113.2313, 1.2], [113.2317, 0.8], [113.2319, 1.8], [113.2321, 2.88], [113.2324, 1.2], [113.2328, 0.8], [113.2333, 1.6], [113.2337, 0.6], [113.2341, 0.3], [113.2345, 0.6],
    [113.2349, 0.4], [113.2353, 0.8], [113.2358, 1.4], [113.2362, 0.5], [113.2366, 0.3], [113.2370, 0.6], [113.2374, 0.4], [113.2378, 0.7], [113.2381, 0.9], [113.2384, 1.2],
    [113.2388, 0.5], [113.2392, 0.6], [113.2396, 0.3], [113.2400, 0.5], [113.2403, 0.6], [113.2406, 0.86], [113.2410, 0.5], [113.2414, 0.8], [113.2418, 0.6], [113.2422, 1.0],
    [113.2425, 1.4], [113.2428, 2.7], [113.2431, 1.05], [113.2434, 1.05], [113.2436, 1.05]
];

// snps in higher LD with the lead snp, drawn over the red area
const orangeSnps = [
    [112.6727, 2.95], [112.6776, 4.0], [112.6866, 5.0], [112.6924, 4.5], [112.6951, 3.83], [112.7006, 0.54], [112.7085, 3.2], [112.7217, 4.26],
    [112.7291, 2.9], [112.7338, 6.0], [112.7390, 1.56], [112.7763, 7.7], [112.8070, 2.3], [112.8405, 1.26], [112.8478, 0.36], [112.8785, 1.7],
    [112.8814, 1.24], [112.8903, 1.26], [112.8920, 1.33], [112.9003, 1.67], [112.9102, 0.65], [112.9150, 0.72], [112.9239, 0.68], [112.9362, 1.65],
    [112.9389, 1.13], [112.9456, 1.24], [112.9483, 0.83], [112.9602, 2.02], [112.9755, 1.64], [112.9987, 2.0], [113.0058, 0.86], [113.0358, 6.4],
    [113.0592, 1.3], [113.0664, 3.45], [113.2428, 2.7]
];

const blueSnps = [
    [112.6597, 1.43], [112.6823, 16.0], [112.7494, 6.0], [112.7717, 4.4], [112.7792, 16.5],
    [112.8954, 0.65], [112.9169, 0.7], [113.0271, 0.86], [113.0377, 1.2], [113.1387, 3.24]
];

const purpleSnps = [
    [112.6690, 41.3], [112.7356, 3.45], [112.8159, 4.6], [112.8843, 1.97], [112.9912, 1.89], [113.0475, 1.26]
];

const greenSnps = [
    [112.8714, 1.2], [112.8717, 1.8], [112.8720, 1.87], [112.8723, 1.7], [112.8726, 1.0], [113.0455, 0.5], [113.0496, 2.2]
];

const colors = {
    red: "#E41A1C",
    orange: "#FF7F00",
    blue: "#377EB8",
    purple: "#984EA3",
    green: "#4DAF4A"
};

const FONT = "Liberation Sans";
Chart.defaults.font.family = FONT;

const spikeHalf = 0.00015;

function toPoints(list) {
    return list
        .slice()
        .sort((a, b) => a[0] - b[0])
        .map(([x, y]) => ({ x, y }));
}

// each coloured snp becomes a narrow peak on the baseline
function toSpikes(list) {
    const pts = [];
    list.forEach(([x, y]) => {
        pts.push({ x: x - spikeHalf, y: 0 });
        pts.push({ x: x, y: y });
        pts.push({ x: x + spikeHalf, y: 0 });
        pts.push({ x: x + spikeHalf, y: null });
    });
    return pts;
}

function spikeSet(list, color) {
    return {
        data: toSpikes(list),
        borderColor: color,
        backgroundColor: color,
        borderWidth: 1.5,
        fill: "origin",
        pointRadius: 0,
        spanGaps: false,
        order: 5
    };
}

const isMajorX = v => Math.round(v * 10) % 2 === 0;
const isMajorY = v => Math.round(v) % 20 === 0;

const panelPlugin = {
    id: "panel",
    beforeDraw(chart) {
        const { ctx, chartArea: a } = chart;
        ctx.save();
        ctx.fillStyle = "#E5E5E5";
        ctx.fillRect(a.left, a.top, a.right - a.left, a.bottom - a.top);
        ctx.restore();
    },
    afterDatasetsDraw(chart) {
        const { ctx, scales } = chart;
        ctx.save();
        ctx.fillStyle = "#000000";
        ctx.font = "41px \"" + FONT + "\"";
        ctx.textAlign = "center";
        ctx.textBaseline = "alphabetic";
        ctx.fillText(leadSnp, scales.x.getPixelForValue(leadPos), scales.y.getPixelForValue(leadLabelY));
        ctx.restore();
    },
    afterDraw(chart) {
        const { ctx, chartArea: a } = chart;
        const cx = (a.left + a.right) / 2;

        ctx.save();
        ctx.fillStyle = "#000000";
        ctx.textAlign = "center";
        ctx.textBaseline = "alphabetic";

        ctx.font = "50px \"" + FONT + "\"";
        ctx.fillText(titleText, cx, 102);

        ctx.font = "37px \"" + FONT + "\"";
        ctx.fillText(subtitleText, cx, 165);

        ctx.font = "44px \"" + FONT + "\"";
        ctx.fillText(xTitle, cx, 2265);

        // -log10(p), rotated, with a subscript
        const big = "47px \"" + FONT + "\"";
        const small = "29px \"" + FONT + "\"";
        ctx.translate(76, (a.top + a.bottom) / 2);
        ctx.rotate(-Math.PI / 2);
        ctx.textAlign = "left";
        ctx.font = big;
        const w1 = ctx.measureText("\u2212log").width;
        const w3 = ctx.measureText("(p)").width;
        ctx.font = small;
        const w2 = ctx.measureText("10").width;
        let x = -(w1 + w2 + w3) / 2;
        ctx.font = big;
        ctx.fillText("\u2212log", x, 0);
        x += w1;
        ctx.font = small;
        ctx.fillText("10", x, 9);
        x += w2;
        ctx.font = big;
        ctx.fillText("(p)", x, 0);
        ctx.restore();
    }
};

const ctx = document.getElementById("locusChart");

new Chart(ctx, {
    type: "line",
    data: {
        datasets: [
            {
                data: [{ x: leadPos, y: leadLineTop }, { x: leadPos, y: 0 }],
                borderColor: "#000000",
                borderWidth: 4.6,
                borderDash: [14, 14],
                pointRadius: 0,
                fill: false,
                order: 1
            },
            {
                data: [{ x: leadPos, y: 0 }],
                showLine: false,
                pointRadius: 9,
                pointBorderWidth: 0,
                pointBackgroundColor: "#000000",
                order: 0
            },
            spikeSet(orangeSnps, colors.orange),
            spikeSet(blueSnps, colors.blue),
            spikeSet(purpleSnps, colors.purple),
            spikeSet(greenSnps, colors.green),
            {
                data: toPoints(redSnps),
                borderColor: colors.red,
                backgroundColor: colors.red,
                borderWidth: 1.8,
                fill: "origin",
                pointRadius: 0,
                order: 10
            }
        ]
    },
    options: {
        responsive: false,
        animation: false,
        devicePixelRatio: 1,
        layout: { padding: { top: 229, right: 47, left: 0, bottom: 0 } },
        elements: { line: { tension: 0 } },
        plugins: {
            legend: { display: false },
            tooltip: { enabled: false },
            title: { display: false }
        },
        scales: {
            x: {
                type: "linear",
                min: xMin,
                max: xMax,
                afterFit(scale) { scale.height = 136; },
                border: { display: false },
                grid: {
                    color: c => isMajorX(c.tick.value) ? "#FFFFFF" : "#F2F2F2",
                    lineWidth: c => isMajorX(c.tick.value) ? 4.5 : 2.5,
                    tickColor: c => isMajorX(c.tick.value) ? "#7F7F7F" : "rgba(0,0,0,0)",
                    tickLength: 16,
                    tickWidth: 4
                },
                ticks: {
                    stepSize: 0.1,
                    includeBounds: false,
                    autoSkip: false,
                    maxRotation: 0,
                    minRotation: 0,
                    padding: 4,
                    color: "#7F7F7F",
                    font: { size: 35 },
                    callback: v => isMajorX(v) ? v.toFixed(1) : ""
                }
            },
            y: {
                min: yMin,
                max: yMax,
                afterFit(scale) { scale.width = 164; },
                border: { display: false },
                grid: {
                    color: c => isMajorY(c.tick.value) ? "#FFFFFF" : "#F2F2F2",
                    lineWidth: c => isMajorY(c.tick.value) ? 4.5 : 2.5,
                    tickColor: c => isMajorY(c.tick.value) ? "#7F7F7F" : "rgba(0,0,0,0)",
                    tickLength: 16,
                    tickWidth: 4
                },
                ticks: {
                    stepSize: 10,
                    includeBounds: false,
                    autoSkip: false,
                    padding: 11,
                    color: "#7F7F7F",
                    font: { size: 35 },
                    callback: v => isMajorY(v) ? String(Math.round(v)) : ""
                }
            }
        }
    },
    plugins: [panelPlugin]
});
</script>
</body>
</html>
